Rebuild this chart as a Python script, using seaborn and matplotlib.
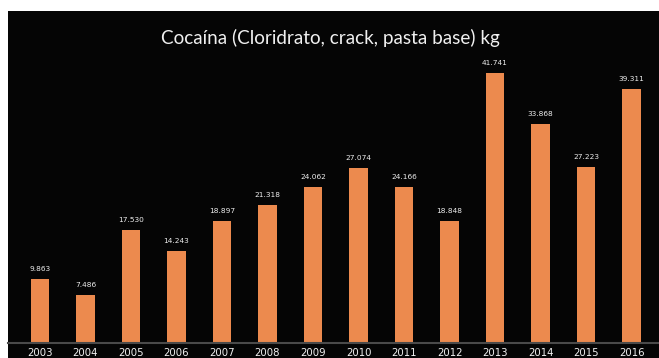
import matplotlib
matplotlib.use("Agg")
import matplotlib.pyplot as plt
import seaborn as sns
import pandas as pd
from matplotlib.patches import Rectangle

years = ["2003", "2004", "2005", "2006", "2007", "2008", "2009",
         "2010", "2011", "2012", "2013", "2014", "2015", "2016"]
values = [9863, 7486, 17530, 14243, 18897, 21318, 24062,
          27074, 24166, 18848, 41741, 33868, 27223, 39311]
labels = ["9.863", "7.486", "17.530", "14.243", "18.897", "21.318", "24.062",
          "27.074", "24.166", "18.848", "41.741", "33.868", "27.223", "39.311"]
title = "Cocaína (Cloridrato, crack, pasta base) kg"

df = pd.DataFrame({"year": years, "kg": values})

W, H = 659, 358
fig = plt.figure(figsize=(W / 100, H / 100), dpi=100, facecolor="white")
fig.patches.append(Rectangle((8 / W, 0), (W - 8) / W, (H - 11) / H,
                             transform=fig.transFigure, facecolor="#050505",
                             edgecolor="none", zorder=-5))
ax = fig.add_axes([8 / W, 15 / H, (W - 8) / W, (343 - 11) / H])
ax.set_facecolor("#050505")

sns.barplot(data=df, x="year", y="kg", color="#EC8A4E", saturation=1,
            width=0.41, ax=ax, zorder=2)

for i, (v, lab) in enumerate(zip(values, labels)):
    ax.annotate(lab, (i, v), xytext=(0, 5), textcoords="offset points",
                ha="center", va="bottom", color="#EDEDED", fontsize=5.3,
                family="DejaVu Sans")

ax.set_xlim(-0.70, 13.6)
ax.set_ylim(0, 51300)
ax.set_xlabel("")
ax.set_ylabel("")
ax.set_yticks([])
ax.tick_params(axis="x", length=0, pad=3.5, labelsize=7.3, labelcolor="#F2F2F2")
for t in ax.get_xticklabels():
    t.set_family("DejaVu Sans")
for s in ["top", "left", "right"]:
    ax.spines[s].set_visible(False)
ax.spines["bottom"].set_color("#4A4A4A")
ax.spines["bottom"].set_linewidth(1.5)

fig.text(0.501, 1 - 38 / H, title, ha="center", va="center", color="#F0F0F0",
         fontsize=13.6, family="Lato")

fig.savefig("out.png", dpi=100, facecolor="white")
